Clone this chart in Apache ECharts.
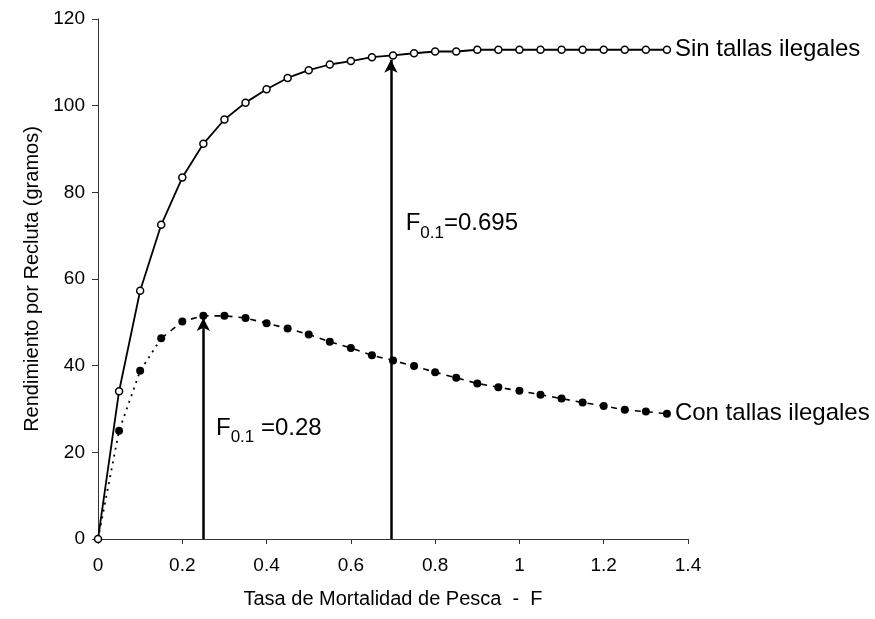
<!DOCTYPE html>
<html>
<head>
<meta charset="utf-8">
<script src="https://cdn.jsdelivr.net/npm/echarts@6/dist/echarts.min.js"></script>
<style>
  html, body { margin: 0; padding: 0; background: #fff; }
  #chart { width: 875px; height: 619px; }
</style>
</head>
<body>
<div id="chart"></div>
<script>
// tasa de mortalidad F
var fValues = [0, 0.05, 0.1, 0.15, 0.2, 0.25, 0.3, 0.35, 0.4, 0.45, 0.5, 0.55, 0.6, 0.65,
               0.7, 0.75, 0.8, 0.85, 0.9, 0.95, 1.0, 1.05, 1.1, 1.15, 1.2, 1.25, 1.3, 1.35];
// rendimiento por recluta (gramos)
var sinTallas = [0, 34.1, 57.3, 72.5, 83.4, 91.2, 96.8, 100.7, 103.8, 106.4, 108.2, 109.5, 110.3, 111.2,
                 111.6, 112.1, 112.5, 112.5, 112.9, 112.9, 112.9, 112.9, 112.9, 112.9, 112.9, 112.9, 112.9, 112.9];
var conTallas = [0, 25.0, 38.8, 46.3, 50.2, 51.5, 51.5, 51.0, 49.8, 48.6, 47.2, 45.5, 44.1, 42.4,
                 41.2, 39.9, 38.5, 37.2, 35.9, 35.0, 34.2, 33.3, 32.4, 31.5, 30.7, 29.8, 29.4, 28.9];
var seriesNames = ['Sin tallas ilegales', 'Con tallas ilegales'];
// F0.1 flechas y sus textos
var f01Sin = { f: 0.695, top: 110.6, text: '=0.695', labelX: 0.73, labelY: 73 };
var f01Con = { f: 0.25, top: 51.0, text: ' =0.28', labelX: 0.28, labelY: 25.8 };

var xTicks = { min: 0, max: 1.4, interval: 0.2 };
var yTicks = { min: 0, max: 120, interval: 20 };

function pairs(xs, ys, from, to) {
    var out = [];
    for (var i = from; i <= to; i++) out.push([xs[i], ys[i]]);
    return out;
}

var font = 'Liberation Sans, Arial, sans-serif';
var lastIdx = fValues.length - 1;

function richLabel(txt) {
    return {
        show: true,
        position: 'right',
        distance: 0,
        color: '#000',
        formatter: '{a|F}{b|0.1}{a|' + txt + '}',
        rich: {
            a: { fontFamily: font, fontSize: 24, color: '#000', lineHeight: 26, verticalAlign: 'bottom' },
            b: { fontFamily: font, fontSize: 17, color: '#000', lineHeight: 26, verticalAlign: 'bottom', padding: [0, 0, -6, 0] }
        }
    };
}

var option = {
    animation: false,
    backgroundColor: '#fff',
    grid: { left: 98, right: 187, top: 19, bottom: 80 },
    xAxis: {
        type: 'value',
        min: xTicks.min, max: xTicks.max, interval: xTicks.interval,
        name: 'Tasa de Mortalidad de Pesca  -  F',
        nameLocation: 'middle',
        nameGap: 50,
        nameTextStyle: { fontFamily: font, fontSize: 20, color: '#000' },
        axisLine: { lineStyle: { color: '#333', width: 1 } },
        axisTick: { show: true, length: 5, lineStyle: { color: '#333' } },
        axisLabel: { fontFamily: font, fontSize: 19, color: '#000', margin: 17,
            formatter: function (v) { return String(Math.round(v * 10) / 10); } },
        splitLine: { show: false }
    },
    yAxis: {
        type: 'value',
        min: yTicks.min, max: yTicks.max, interval: yTicks.interval,
        name: 'Rendimiento por Recluta (gramos)',
        nameLocation: 'middle',
        nameGap: 55,
        nameTextStyle: { fontFamily: font, fontSize: 20, color: '#000' },
        axisLine: { show: true, lineStyle: { color: '#333', width: 1 } },
        axisTick: { show: true, length: 6, lineStyle: { color: '#333' } },
        axisLabel: { fontFamily: font, fontSize: 19, color: '#000', margin: 13 },
        splitLine: { show: false }
    },
    series: [
        {
            name: seriesNames[0],
            type: 'line',
            data: pairs(fValues, sinTallas, 0, lastIdx),
            symbol: 'circle',
            symbolSize: 7,
            showAllSymbol: true,
            lineStyle: { color: '#000', width: 1.8 },
            itemStyle: { color: '#fff', borderColor: '#000', borderWidth: 1.5 },
            label: { show: false },
            endLabel: { show: true, formatter: seriesNames[0], fontFamily: font, fontSize: 24,
                color: '#000', distance: 8 },
            z: 3
        },
        {
            // tramo punteado inicial
            name: seriesNames[1] + ' a',
            type: 'line',
            data: pairs(fValues, conTallas, 0, 3),
            symbol: 'none',
            lineStyle: { color: '#000', width: 1.8, type: [2, 5] },
            z: 2
        },
        {
            name: seriesNames[1],
            type: 'line',
            data: pairs(fValues, conTallas, 3, lastIdx),
            symbol: 'none',
            lineStyle: { color: '#000', width: 1.6, type: [6, 6] },
            endLabel: { show: true, formatter: seriesNames[1], fontFamily: font, fontSize: 24,
                color: '#000', distance: 8 },
            z: 2
        },
        {
            name: 'puntos con',
            type: 'scatter',
            data: pairs(fValues, conTallas, 1, lastIdx),
            symbol: 'circle',
            symbolSize: 8,
            itemStyle: { color: '#000', opacity: 1 },
            z: 4
        },
        {
            name: 'flechas',
            type: 'scatter',
            data: [
                { value: [f01Sin.labelX, f01Sin.labelY], label: richLabel(f01Sin.text) },
                { value: [f01Con.labelX, f01Con.labelY], label: richLabel(f01Con.text) }
            ],
            symbolSize: 0,
            silent: true,
            itemStyle: { opacity: 1 },
            markLine: {
                silent: true,
                symbol: ['none', 'arrow'],
                symbolSize: [10, 13],
                label: { show: false },
                lineStyle: { color: '#000', width: 2.5, type: 'solid' },
                data: [
                    [{ coord: [f01Con.f, 0] }, { coord: [f01Con.f, f01Con.top] }],
                    [{ coord: [f01Sin.f, 0] }, { coord: [f01Sin.f, f01Sin.top] }]
                ]
            },
            z: 5
        }
    ]
};

var myChart = echarts.init(document.getElementById('chart'));
myChart.setOption(option);
</script>
</body>
</html>
